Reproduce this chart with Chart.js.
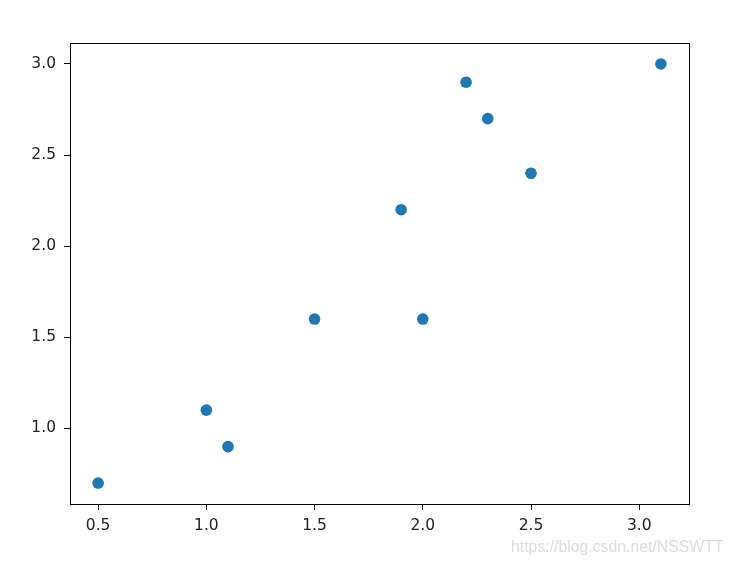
<!DOCTYPE html>
<html>
<head>
<meta charset="utf-8">
<script src="https://cdn.jsdelivr.net/npm/chart.js@4/dist/chart.umd.min.js"></script>
<style>
  html, body { margin: 0; padding: 0; background: #fff; }
  #wrap { position: relative; width: 734px; height: 566px; }
  #wm { position: absolute; left: 511px; top: 538px; font-family: "Liberation Sans", Arial, sans-serif; font-size: 15.8px; color: #dcdcdc; white-space: nowrap; }
</style>
</head>
<body>
<div id="wrap">
  <canvas id="c" width="734" height="566"></canvas>
  <div id="wm">https://blog.csdn.net/NSSWTT</div>
</div>
<script>
const xValues = [2.5, 0.5, 2.2, 1.9, 3.1, 2.3, 2.0, 1.0, 1.5, 1.1];
const yValues = [2.4, 0.7, 2.9, 2.2, 3.0, 2.7, 1.6, 1.1, 1.6, 0.9];
const xTicks = [0.5, 1.0, 1.5, 2.0, 2.5, 3.0];
const yTicks = [1.0, 1.5, 2.0, 2.5, 3.0];

const points = xValues.map((x, i) => ({ x: x, y: yValues[i] }));

const frame = {
  id: 'frame',
  afterDraw(chart) {
    const a = chart.chartArea, ctx = chart.ctx;
    ctx.save();
    ctx.strokeStyle = '#000';
    ctx.lineWidth = 1;
    ctx.strokeRect(Math.round(a.left) + 0.5, Math.round(a.top) + 0.5,
                   Math.round(a.right - a.left), Math.round(a.bottom - a.top));
    ctx.restore();
  }
};

const tickFont = { family: '"DejaVu Sans", sans-serif', size: 15.5 };

new Chart(document.getElementById('c'), {
  type: 'scatter',
  data: {
    datasets: [{
      data: points,
      backgroundColor: '#1f77b4',
      borderColor: '#1f77b4',
      pointRadius: 5.8,
      pointHoverRadius: 5.8,
      borderWidth: 0
    }]
  },
  options: {
    responsive: false,
    animation: false,
    events: [],
    layout: { padding: { left: 0, top: 43, right: 45, bottom: 0 } },
    plugins: { legend: { display: false }, tooltip: { enabled: false } },
    scales: {
      x: {
        type: 'linear',
        min: 0.37,
        max: 3.23,
        afterBuildTicks: s => { s.ticks = xTicks.map(v => ({ value: v })); },
        afterFit: s => { s.height = 62; },
        grid: { drawOnChartArea: false, color: '#000', tickLength: 6, tickWidth: 1 },
        border: { display: true, color: '#000', width: 1 },
        ticks: { color: '#222', font: tickFont, padding: 7, maxRotation: 0,
                 callback: v => Number(v).toFixed(1) }
      },
      y: {
        type: 'linear',
        min: 0.585,
        max: 3.115,
        afterBuildTicks: s => { s.ticks = yTicks.map(v => ({ value: v })); },
        afterFit: s => { s.width = 70; },
        grid: { drawOnChartArea: false, color: '#000', tickLength: 6, tickWidth: 1 },
        border: { display: true, color: '#000', width: 1 },
        ticks: { color: '#222', font: tickFont, padding: 8,
                 callback: v => Number(v).toFixed(1) }
      }
    }
  },
  plugins: [frame]
});
</script>
</body>
</html>
